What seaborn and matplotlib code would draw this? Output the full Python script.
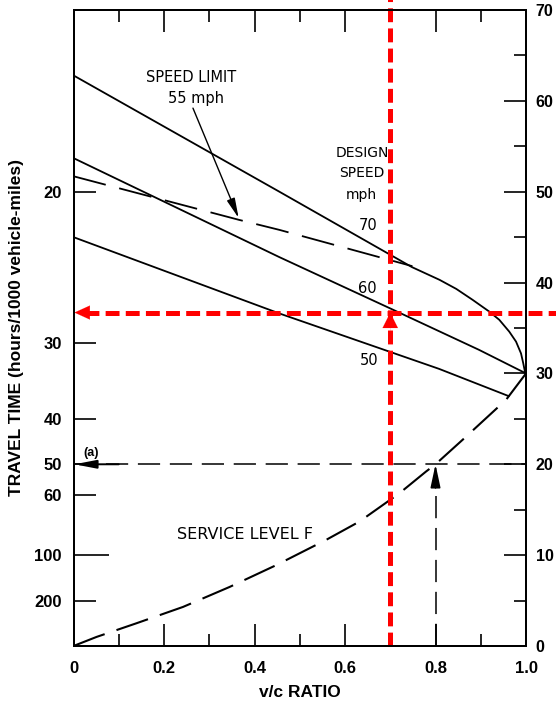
import matplotlib
matplotlib.use("Agg")
import matplotlib.pyplot as plt
import pandas as pd
import seaborn as sns

# Operating speed (mph) against volume/capacity ratio for each design speed
vc_70 = [0.0, 0.455, 0.748, 0.809, 0.846, 0.882, 0.919, 0.941, 0.963, 0.978, 0.989, 0.994, 0.998, 1.0]
speed_70 = [62.8, 50.0, 41.7, 40.3, 39.3, 38.1, 36.8, 35.9, 34.6, 33.5, 32.2, 31.1, 30.1, 30.0]

vc_60 = [0.0, 0.455, 0.698, 0.896, 1.0]
speed_60 = [53.7, 42.8, 37.2, 32.6, 30.0]

vc_50 = [0.0, 0.455, 0.808, 0.962]
speed_50 = [45.0, 36.6, 30.5, 27.5]

# 55 mph speed-limit branch (joins the 70 mph curve)
vc_55 = [0.0, 0.366, 0.455, 0.749]
speed_55 = [51.7, 46.9, 45.8, 41.8]

# Service level F (forced flow) curve
vc_f = [0.0, 0.051, 0.139, 0.242, 0.345, 0.448, 0.559, 0.632, 0.720, 0.779, 0.80, 0.860, 0.956, 1.0]
speed_f = [0.0, 1.0, 2.5, 4.3, 6.5, 8.9, 11.7, 13.7, 16.8, 19.2, 20.0, 22.7, 27.1, 30.0]

# Worked example (a): v/c = 0.8 on level F gives 20 mph
example_vc = 0.8
example_speed = 20.0

# Highlighted reading: v/c = 0.7 on the 60 mph curve
read_vc = 0.7
read_speed = 36.7

travel_time_ticks = [20, 30, 40, 50, 60, 100, 200]
speed_ticks = [0, 10, 20, 30, 40, 50, 60, 70]
speed_minor = [5, 15, 25, 35, 45, 55, 65]
vc_ticks = [0.0, 0.2, 0.4, 0.6, 0.8, 1.0]
vc_tick_labels = ["0", "0.2", "0.4", "0.6", "0.8", "1.0"]
vc_minor = [0.1, 0.3, 0.5, 0.7, 0.9]
design_speeds = ["70", "60", "50"]
design_label_pos = [(0.650, 46.3), (0.650, 39.4), (0.654, 31.4)]

sns.set_theme(style="ticks")
plt.rcParams["font.family"] = ["Liberation Sans", "DejaVu Sans"]
plt.rcParams.update({
    "lines.scale_dashes": False,
    "axes.linewidth": 1.4,
    "axes.edgecolor": "black",
    "text.color": "black",
    "axes.labelcolor": "black",
    "xtick.color": "black",
    "ytick.color": "black",
})

fig = plt.figure(figsize=(5.56, 7.06), dpi=100)
W, H = 556, 706
x0, x1, y0, y1 = 73.5, 526.0, 10.0, 646.0
ax = fig.add_axes([x0 / W, 1 - y1 / H, (x1 - x0) / W, (y1 - y0) / H])

solid = pd.concat([
    pd.DataFrame({"vc": vc_70, "speed": speed_70, "design": "70"}),
    pd.DataFrame({"vc": vc_60, "speed": speed_60, "design": "60"}),
    pd.DataFrame({"vc": vc_50, "speed": speed_50, "design": "50"}),
])
sns.lineplot(data=solid, x="vc", y="speed", hue="design", palette=["black"] * 3,
             estimator=None, legend=False, lw=1.3, ax=ax)

sns.lineplot(x=vc_55, y=speed_55, color="black", lw=1.3, estimator=None,
             linestyle=(0, (24, 10)), ax=ax)
sns.lineplot(x=vc_f, y=speed_f, color="black", lw=1.5, estimator=None,
             linestyle=(0, (24, 9)), ax=ax)

# example (a) guide lines
ax.plot([0, 1.0], [example_speed, example_speed], color="black", lw=1.1,
        linestyle=(0, (16, 7)))
ax.plot([example_vc, example_vc], [0, example_speed - 1.5], color="black", lw=1.1,
        linestyle=(0, (16, 7)))
ax.annotate("", xy=(example_vc, example_speed), xytext=(example_vc, example_speed - 2.6),
            arrowprops=dict(arrowstyle="-|>,head_length=1.4,head_width=0.3",
                            mutation_scale=10, color="black", lw=1.2,
                            shrinkA=0, shrinkB=0))
ax.annotate("", xy=(0.002, example_speed), xytext=(0.1, example_speed),
            arrowprops=dict(arrowstyle="-|>,head_length=1.3,head_width=0.25",
                            mutation_scale=10, color="black", lw=1.4,
                            shrinkA=0, shrinkB=0))
ax.text(0.039, 21.2, "(a)", fontsize=9, fontweight="bold", ha="center", va="center")

# speed limit callout
ax.text(0.259, 62.6, "SPEED LIMIT", family="DejaVu Sans", fontsize=10.5,
        ha="center", va="center")
ax.text(0.270, 60.3, "55 mph", family="DejaVu Sans", fontsize=10.5,
        ha="center", va="center")
ax.annotate("", xy=(0.365, 47.1), xytext=(0.264, 59.2),
            arrowprops=dict(arrowstyle="-|>,head_length=1.2,head_width=0.25",
                            mutation_scale=10, color="black", lw=1.0,
                            shrinkA=0, shrinkB=0))

# design speed labels
ax.text(0.639, 54.3, "DESIGN", family="DejaVu Sans", fontsize=10, ha="center", va="center")
ax.text(0.637, 52.1, "SPEED", family="DejaVu Sans", fontsize=10, ha="center", va="center")
ax.text(0.637, 49.6, "mph", family="DejaVu Sans", fontsize=10, ha="center", va="center")
for lab, (lx, ly) in zip(design_speeds, design_label_pos):
    ax.text(lx, ly, lab, family="DejaVu Sans", fontsize=10.5, ha="center", va="center")

ax.text(0.378, 12.3, "SERVICE LEVEL F", family="DejaVu Sans", fontsize=11.5,
        ha="center", va="center")

# red reading guides
red = "#ff0000"
ax.plot([read_vc, read_vc], [0, 71.2], color=red, lw=3.6, linestyle=(0, (10, 4.5)),
        clip_on=False, zorder=5)
ax.plot([0.025, 1.08], [read_speed, read_speed], color=red, lw=3.6,
        linestyle=(0, (10, 4.5)), clip_on=False, zorder=5)
ax.annotate("", xy=(0.002, read_speed), xytext=(0.04, read_speed),
            arrowprops=dict(arrowstyle="-|>,head_length=1.1,head_width=0.5",
                            mutation_scale=10, color=red, lw=0.1,
                            shrinkA=0, shrinkB=0), zorder=6)
ax.annotate("", xy=(read_vc, read_speed), xytext=(read_vc, read_speed - 2.0),
            arrowprops=dict(arrowstyle="-|>,head_length=1.1,head_width=0.55",
                            mutation_scale=10, color=red, lw=0.1,
                            shrinkA=0, shrinkB=0), zorder=6)

# axes, ticks and labels
ax.set_xlim(0, 1.0)
ax.set_ylim(0, 70)
ax.set_xticks(vc_ticks)
ax.set_xticklabels(vc_tick_labels)
ax.set_xticks(vc_minor, minor=True)
ax.tick_params(axis="x", which="major", direction="in", length=16, width=1.2,
               top=True, bottom=True, labelsize=12, pad=11)
ax.tick_params(axis="x", which="minor", direction="in", length=8.6, width=1.2,
               top=True, bottom=True)
for lab in ax.get_xticklabels():
    lab.set_fontweight("bold")

ax.set_yticks([1000.0 / t for t in travel_time_ticks])
ax.set_yticklabels([str(t) for t in travel_time_ticks])
ax.set_yticks([], minor=True)
ax.tick_params(axis="y", which="major", direction="in", length=16, width=1.2,
               left=True, right=False, labelsize=12, pad=8.5)
for t, tick in zip(travel_time_ticks, ax.yaxis.get_major_ticks()):
    if t == 100:
        tick.tick1line.set_markersize(25)
for lab in ax.get_yticklabels():
    lab.set_fontweight("bold")

ax2 = ax.twinx()
ax2.set_ylim(0, 70)
ax2.set_yticks(speed_ticks)
ax2.set_yticks(speed_minor, minor=True)
ax2.tick_params(axis="y", which="major", direction="in", length=16, width=1.2,
                labelsize=11.5, pad=7)
ax2.tick_params(axis="y", which="minor", direction="in", length=8.6, width=1.2)
for lab in ax2.get_yticklabels():
    lab.set_fontweight("bold")
for sp in ax2.spines.values():
    sp.set_linewidth(1.4)

ax.set_xlabel("v/c RATIO", fontsize=12.5, fontweight="bold", labelpad=6)
ax.set_ylabel("")
fig.text(17 / W, 1 - 327 / H, "TRAVEL TIME (hours/1000 vehicle-miles)", rotation=90,
         ha="center", va="center", fontsize=12.5, fontweight="bold")

fig.savefig("out.png", dpi=100)
